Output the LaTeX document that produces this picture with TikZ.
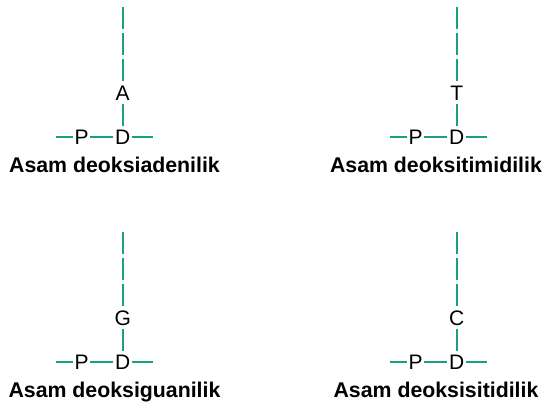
\documentclass[tikz,border=0pt]{standalone}
\usepackage{fontspec}
\setmainfont{Liberation Sans}
\definecolor{dnateal}{RGB}{24,160,130}
\newcommand\nucunit[6]{%
  \node[lt] (#1b) at (#2,#3) {#4};
  \node[lt] (#1d) at (#2,#3+44) {D};
  \node[lt] (#1p) at (#2-41,#3+44) {P};
  \coordinate (#1top) at (#2,#3-86);
  \coordinate (#1l) at (#2-67,#3+44);
  \coordinate (#1r) at (#2+30,#3+44);
  \node[lab] (#1lab) at (#5,#3+79) {#6};
  \draw[hbond] (#1top) -- (#1b.north);
  \draw[bond] (#1b) -- (#1d);
  \draw[bond] (#1l) -- (#1p);
  \draw[bond] (#1p) -- (#1d);
  \draw[bond] (#1d) -- (#1r);
}
\begin{document}
\begin{tikzpicture}[x=1pt,y=-1pt,
  lt/.style={font=\fontsize{21}{25}\selectfont, inner xsep=1.5pt, inner ysep=3.5pt, text height=15pt, text depth=0pt},
  lab/.style={font=\fontsize{21.3}{25}\selectfont\bfseries, anchor=base, inner sep=0pt},
  bond/.style={draw=dnateal, line width=2pt},
  hbond/.style={bond, dash pattern=on 22pt off 4pt}]
\useasboundingbox (0,0) rectangle (543,407);
\nucunit{a}{122.7}{93}{A}{114.5}{Asam deoksiadenilik}
\nucunit{t}{456.7}{93}{T}{436}{Asam deoksitimidilik}
\nucunit{g}{122.7}{318}{G}{114.5}{Asam deoksiguanilik}
\nucunit{c}{456.7}{318}{C}{436}{Asam deoksisitidilik}
\end{tikzpicture}
\end{document}
